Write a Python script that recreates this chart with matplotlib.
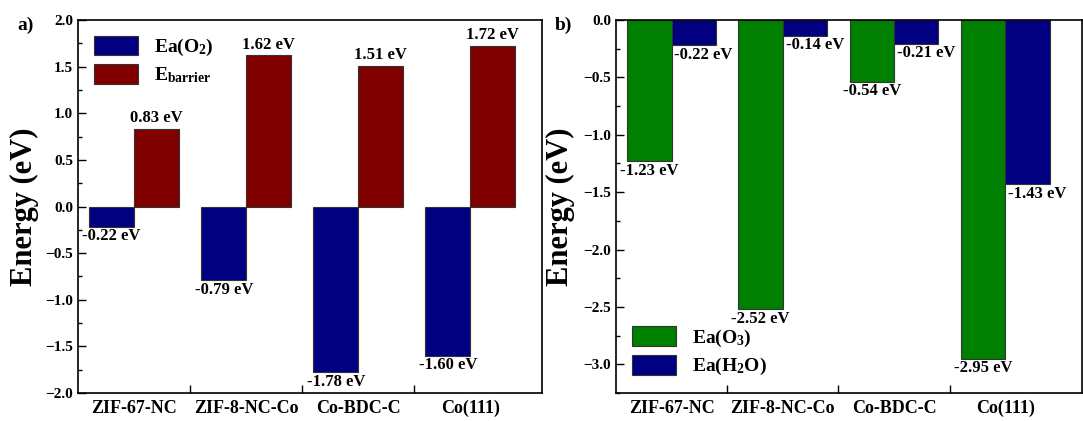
import matplotlib
matplotlib.use("Agg")
import matplotlib.pyplot as plt
import numpy as np

# data
catalysts = ["ZIF-67-NC", "ZIF-8-NC-Co", "Co-BDC-C", "Co(111)"]
ea_o2 = [-0.22, -0.79, -1.78, -1.60]
e_barrier = [0.83, 1.62, 1.51, 1.72]
ea_o3 = [-1.23, -2.52, -0.54, -2.95]
ea_h2o = [-0.22, -0.14, -0.21, -1.43]

NAVY = "#000080"
RED = "#800000"
GREEN = "#008000"

plt.rcParams["font.family"] = "Liberation Serif"
plt.rcParams["font.weight"] = "bold"
plt.rcParams["mathtext.fontset"] = "custom"
plt.rcParams["mathtext.rm"] = "Liberation Serif:bold"
plt.rcParams["mathtext.default"] = "rm"

fig = plt.figure(figsize=(10.83, 4.21), dpi=100)
ax1 = fig.add_axes([0.072, 0.0665, 0.4285, 0.886])
ax2 = fig.add_axes([0.5688, 0.0665, 0.4302, 0.886])

x = np.arange(1, len(catalysts) + 1)
w = 0.40
bar_kw = dict(width=w, edgecolor="#333333", linewidth=0.8)


def label_bars(ax, bars, vals, dx=0):
    for b, v in zip(bars, vals):
        cx = b.get_x() + b.get_width() / 2
        if v >= 0:
            ax.annotate(f"{v:.2f} eV", (cx, v), xytext=(dx, 2),
                        textcoords="offset points", ha="center", va="bottom",
                        fontsize=12, fontweight="bold")
        else:
            ax.annotate(f"{v:.2f} eV", (cx, v), xytext=(dx, -1),
                        textcoords="offset points", ha="center", va="top",
                        fontsize=12, fontweight="bold")


def style_axis(ax, ymin, ymax, xmax):
    ax.set_xlim(0.5, xmax)
    ax.set_xticks([1.5, 2.5, 3.5])
    ax.set_xticklabels([])
    ax.set_xticks(x, minor=True)
    ax.set_xticklabels(catalysts, minor=True, fontsize=13, fontweight="bold")
    ax.tick_params(axis="x", which="minor", length=0, pad=5)
    ax.tick_params(axis="x", which="major", direction="in", length=6, width=1)
    ax.set_yticks(np.arange(-3.0 if ymin < -3 else ymin, ymax + 0.01, 0.5))
    ax.set_yticks(np.arange(-3.25, ymax + 0.01, 0.25), minor=True)
    ax.tick_params(axis="y", which="major", direction="in", length=6, width=1,
                   labelsize=11)
    ax.tick_params(axis="y", which="minor", direction="in", length=3, width=1)
    ax.set_ylim(ymin, ymax)
    for lbl in ax.get_yticklabels():
        lbl.set_fontweight("bold")
    for s in ax.spines.values():
        s.set_linewidth(1.2)
    ax.set_ylabel("Energy (eV)", fontsize=22, fontweight="bold")


# panel a
b1 = ax1.bar(x - w / 2, ea_o2, color=NAVY, label="Ea(O$_2$)", **bar_kw)
b2 = ax1.bar(x + w / 2, e_barrier, color=RED, label="E$_{barrier}$", **bar_kw)
label_bars(ax1, b1, ea_o2)
label_bars(ax1, b2, e_barrier)
style_axis(ax1, -2.0, 2.0, 4.64)
ax1.yaxis.set_label_coords(-0.084, 0.5)
ax1.legend(loc="upper left", frameon=False, fontsize=14, handlelength=2.3,
           handleheight=1.2, borderaxespad=0.4, labelspacing=0.3)

# panel b
b3 = ax2.bar(x - w / 2, ea_o3, color=GREEN, label="Ea(O$_3$)", **bar_kw)
b4 = ax2.bar(x + w / 2, ea_h2o, color=NAVY, label="Ea(H$_2$O)", **bar_kw)
label_bars(ax2, b3, ea_o3)
label_bars(ax2, b4, ea_h2o, dx=7)
style_axis(ax2, -3.25, 0.0, 4.69)
ax2.yaxis.set_label_coords(-0.088, 0.5)
ax2.legend(loc="lower left", frameon=False, fontsize=14, handlelength=2.3,
           handleheight=1.2, borderaxespad=0.4, labelspacing=0.3)

fig.text(0.016, 0.93, "a)", fontsize=14, fontweight="bold")
fig.text(0.512, 0.93, "b)", fontsize=14, fontweight="bold")

fig.savefig("out.png", dpi=100)
